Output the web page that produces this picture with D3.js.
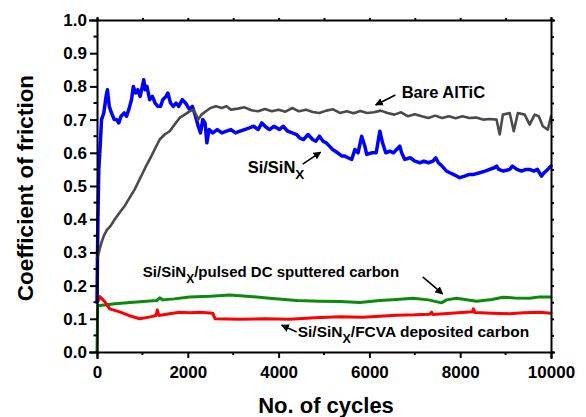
<!DOCTYPE html>
<html>
<head>
<meta charset="utf-8">
<script src="https://cdn.jsdelivr.net/npm/d3@7"></script>
<style>
  body { margin: 0; background: #fff; }
  text { font-family: Arial, "Liberation Sans", sans-serif; font-weight: bold; fill: #000; }
  .axis path, .axis line { stroke: #000; stroke-width: 2; }
  .curve { fill: none; stroke-linejoin: round; stroke-linecap: round; }
</style>
</head>
<body>
<div class="container"></div>
<script>
const WIDTH = 586;
const HEIGHT = 417;
var margin = {top: 20, right: 35, bottom: 65, left: 97};

// x = number of cycles, y = coefficient of friction
var bareAlTiC = [
  [0,0.28],[40,0.30],[100,0.33],[150,0.35],[216,0.367],[300,0.38],[392,0.40],[500,0.42],
  [610,0.44],[720,0.465],[830,0.49],[920,0.515],[1010,0.54],[1080,0.56],[1160,0.58],[1270,0.61],
  [1380,0.64],[1490,0.655],[1600,0.665],[1710,0.685],[1820,0.705],[1930,0.715],[2040,0.725],
  [2120,0.73],[2180,0.715],[2230,0.70],[2300,0.715],[2400,0.725],[2500,0.735],[2620,0.74],
  [2750,0.735],[2850,0.74],[2950,0.73],[3100,0.733],[3250,0.737],[3400,0.728],[3550,0.725],
  [3700,0.732],[3850,0.725],[4000,0.73],[4150,0.724],[4300,0.735],[4450,0.725],[4600,0.73],
  [4750,0.723],[4900,0.72],[5050,0.727],[5200,0.731],[5350,0.72],[5500,0.725],[5650,0.719],
  [5800,0.726],[5950,0.72],[6100,0.722],[6250,0.727],[6400,0.72],[6550,0.715],[6700,0.722],
  [6850,0.71],[7000,0.716],[7150,0.71],[7300,0.705],[7450,0.712],[7600,0.705],[7750,0.71],
  [7900,0.704],[8050,0.71],[8200,0.705],[8350,0.706],[8500,0.70],[8650,0.702],[8800,0.70],
  [8870,0.655],[8940,0.715],[9090,0.72],[9180,0.665],[9270,0.72],[9420,0.715],[9530,0.685],
  [9640,0.715],[9730,0.71],[9820,0.68],[9930,0.67],[10000,0.71]
];

var siSiN = [
  [0,0.15],[20,0.40],[40,0.55],[70,0.62],[100,0.70],[150,0.72],[200,0.77],[230,0.79],[270,0.74],
  [320,0.72],[380,0.70],[430,0.70],[480,0.69],[530,0.71],[600,0.72],[650,0.71],[700,0.73],
  [760,0.76],[800,0.80],[850,0.78],[900,0.79],[950,0.77],[1000,0.80],[1030,0.82],[1060,0.79],
  [1100,0.80],[1160,0.76],[1220,0.77],[1280,0.75],[1340,0.74],[1400,0.74],[1450,0.76],
  [1520,0.77],[1560,0.78],[1620,0.75],[1680,0.74],[1740,0.75],[1800,0.74],[1880,0.76],
  [1950,0.75],[2040,0.73],[2100,0.74],[2170,0.71],[2230,0.68],[2280,0.66],[2330,0.70],
  [2380,0.69],[2420,0.63],[2470,0.67],[2550,0.66],[2650,0.67],[2750,0.66],[2850,0.665],
  [2950,0.67],[3050,0.66],[3150,0.665],[3250,0.67],[3360,0.675],[3450,0.68],[3550,0.67],
  [3630,0.69],[3700,0.68],[3800,0.67],[3900,0.68],[4020,0.67],[4100,0.68],[4200,0.665],
  [4300,0.66],[4400,0.655],[4460,0.645],[4550,0.64],[4650,0.655],[4750,0.64],[4820,0.635],
  [4900,0.65],[4980,0.635],[5050,0.63],[5120,0.62],[5190,0.61],[5300,0.60],[5400,0.59],
  [5460,0.59],[5530,0.585],[5610,0.58],[5680,0.61],[5750,0.60],[5830,0.65],[5900,0.62],
  [5940,0.595],[6050,0.60],[6150,0.60],[6230,0.665],[6290,0.63],[6360,0.60],[6450,0.605],
  [6530,0.60],[6600,0.61],[6670,0.62],[6710,0.60],[6780,0.58],[6900,0.585],[7000,0.575],
  [7110,0.57],[7200,0.575],[7300,0.57],[7400,0.575],[7460,0.585],[7520,0.57],[7600,0.56],
  [7700,0.545],[7770,0.54],[7850,0.535],[7920,0.53],[7990,0.525],[8100,0.53],[8200,0.535],
  [8300,0.535],[8430,0.54],[8550,0.545],[8650,0.55],[8750,0.555],[8800,0.56],[8850,0.55],
  [8950,0.545],[9090,0.55],[9150,0.56],[9250,0.55],[9350,0.545],[9450,0.55],[9530,0.55],
  [9620,0.545],[9700,0.55],[9790,0.53],[9850,0.54],[9930,0.55],[10000,0.56]
];

var pulsedDC = [
  [0,0],[15,0.14],[60,0.14],[400,0.145],[800,0.15],[1315,0.155],[1380,0.163],[1450,0.157],
  [1700,0.16],[2040,0.166],[2500,0.168],[2920,0.172],[3300,0.168],[3800,0.162],[4400,0.155],
  [4900,0.153],[5350,0.152],[5790,0.149],[6230,0.155],[6600,0.158],[6960,0.162],[7300,0.157],
  [7590,0.148],[7700,0.157],[7920,0.162],[8360,0.153],[8700,0.158],[8940,0.165],[9200,0.163],
  [9530,0.162],[9750,0.166],[10000,0.166]
];

var fcva = [
  [0,0.15],[30,0.155],[60,0.167],[110,0.16],[170,0.152],[280,0.13],[500,0.121],[700,0.11],
  [940,0.10],[1150,0.105],[1300,0.11],[1330,0.127],[1360,0.11],[1600,0.115],[1820,0.12],
  [2050,0.118],[2260,0.12],[2550,0.117],[2600,0.10],[3140,0.099],[3700,0.10],[4240,0.099],
  [4800,0.103],[5350,0.106],[5850,0.105],[6600,0.111],[7000,0.112],[7330,0.114],[7370,0.12],
  [7400,0.113],[7800,0.117],[8270,0.121],[8290,0.13],[8320,0.119],[8700,0.117],[9090,0.115],
  [9400,0.118],[9750,0.12],[10000,0.117]
];

var xTicks = [0, 2000, 4000, 6000, 8000, 10000];
var xMinor = [1000, 3000, 5000, 7000, 9000];
var yTicks = [0, 0.1, 0.2, 0.3, 0.4, 0.5, 0.6, 0.7, 0.8, 0.9, 1.0];
var yMinor = [0.05, 0.15, 0.25, 0.35, 0.45, 0.55, 0.65, 0.75, 0.85, 0.95];

// label text, sub, rest, text anchor [x,y], arrow tail, arrow head, font size
var notes = [
  {pre: "Bare AlTiC", sub: "", post: "", at: [6711, 0.765], from: [6572, 0.774], to: [6138, 0.744], size: 16.5},
  {pre: "Si/SiN", sub: "X", post: "", at: [3319, 0.539], from: [4530, 0.566], to: [4927, 0.602], size: 16.5},
  {pre: "Si/SiN", sub: "X", post: "/pulsed DC sputtered carbon", at: [1009, 0.226], from: [7174, 0.226], to: [7614, 0.175], size: 15},
  {pre: "Si/SiN", sub: "X", post: "/FCVA deposited carbon", at: [4421, 0.045], from: [4399, 0.060], to: [4068, 0.081], size: 15.5}
];

var svg, x, y;

var drawChart = function(){
  svg = d3.select(".container").append("svg")
      .attr("width", WIDTH)
      .attr("height", HEIGHT);

  x = d3.scaleLinear().domain([0, 10000]).range([margin.left, WIDTH - margin.right]);
  y = d3.scaleLinear().domain([0, 1]).range([HEIGHT - margin.bottom, margin.top]);

  svg.append("defs").append("marker")
      .attr("id", "head")
      .attr("viewBox", "0 0 10 10")
      .attr("refX", 9).attr("refY", 5)
      .attr("markerWidth", 5).attr("markerHeight", 5)
      .attr("orient", "auto")
    .append("path")
      .attr("d", "M0,0 L10,5 L0,10 Z")
      .attr("fill", "#000");

  drawCurves();
  drawAxes();
  drawNotes();
}

var drawCurves = function(){
  var line = d3.line().x(d => x(d[0])).y(d => y(d[1]));
  var series = [
    {data: pulsedDC, color: "#0b8a0b", width: 3},
    {data: fcva, color: "#ff0000", width: 3},
    {data: siSiN, color: "#0000ff", width: 3.5},
    {data: bareAlTiC, color: "#4a4a4a", width: 2.6}
  ];
  svg.selectAll(".curve").data(series).enter().append("path")
      .classed("curve", true)
      .attr("d", d => line(d.data))
      .attr("stroke", d => d.color)
      .attr("stroke-width", d => d.width);
}

var drawAxes = function(){
  var bottom = HEIGHT - margin.bottom;
  var right = WIDTH - margin.right;

  var gx = svg.append("g").classed("axis", true)
      .attr("transform", "translate(0," + bottom + ")")
      .call(d3.axisBottom(x).tickValues(xTicks).tickSize(6).tickPadding(8).tickFormat(d3.format("d")));
  gx.selectAll("text").style("font-size", "17px");
  gx.selectAll(".minor").data(xMinor).enter().append("line")
      .attr("x1", d => x(d)).attr("x2", d => x(d)).attr("y1", 0).attr("y2", 3)
      .attr("stroke", "#000").attr("stroke-width", 2);

  var gy = svg.append("g").classed("axis", true)
      .attr("transform", "translate(" + margin.left + ",0)")
      .call(d3.axisLeft(y).tickValues(yTicks).tickSize(7).tickPadding(3).tickFormat(d3.format(".1f")));
  gy.selectAll("text").style("font-size", "17px");
  gy.selectAll(".minor").data(yMinor).enter().append("line")
      .attr("x1", 0).attr("x2", -3.5).attr("y1", d => y(d)).attr("y2", d => y(d))
      .attr("stroke", "#000").attr("stroke-width", 2);

  // mirrored frame on top and right
  var gt = svg.append("g").classed("axis", true)
      .attr("transform", "translate(0," + margin.top + ")")
      .call(d3.axisTop(x).tickValues(xTicks.concat(xMinor)).tickSize(2).tickFormat(""));
  var gr = svg.append("g").classed("axis", true)
      .attr("transform", "translate(" + right + ",0)")
      .call(d3.axisRight(y).tickValues(yTicks.concat(yMinor)).tickSize(3).tickFormat(""));
  svg.selectAll(".axis path").attr("stroke-linecap", "square");

  svg.append("text")
      .attr("x", (margin.left + right) / 2 + 2)
      .attr("y", 413)
      .attr("text-anchor", "middle")
      .style("font-size", "22px")
      .text("No. of cycles");

  svg.append("text")
      .attr("transform", "translate(33," + (y(0.5) + 2) + ") rotate(-90)")
      .attr("text-anchor", "middle")
      .style("font-size", "22.5px")
      .text("Coefficient of friction");
}

var drawNotes = function(){
  var g = svg.append("g");
  notes.forEach(function(n){
    var t = g.append("text")
        .attr("x", x(n.at[0]))
        .attr("y", y(n.at[1]))
        .style("font-size", n.size + "px");
    t.append("tspan").text(n.pre);
    if (n.sub) {
      t.append("tspan").attr("dy", 6).style("font-size", (n.size - 3) + "px").text(n.sub);
      t.append("tspan").attr("dy", -6).text(n.post);
    }
    g.append("line")
        .attr("x1", x(n.from[0])).attr("y1", y(n.from[1]))
        .attr("x2", x(n.to[0])).attr("y2", y(n.to[1]))
        .attr("stroke", "#000").attr("stroke-width", 1.6)
        .attr("marker-end", "url(#head)");
  });
}

window.onload = drawChart;
</script>
</body>
</html>
